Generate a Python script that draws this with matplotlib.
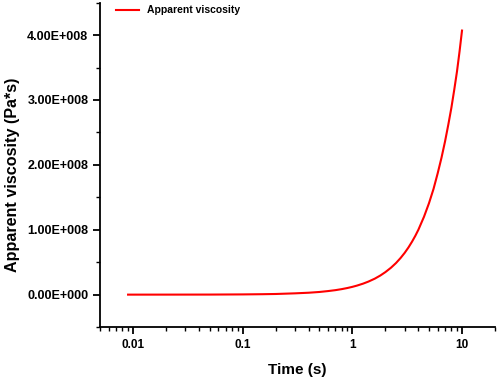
import matplotlib
matplotlib.use("Agg")
import matplotlib.pyplot as plt
from matplotlib.ticker import FuncFormatter, MultipleLocator, LogLocator, NullFormatter

plt.rcParams["font.family"] = ["Liberation Sans", "DejaVu Sans"]
plt.rcParams["font.weight"] = "bold"

# time (s) and apparent viscosity (Pa*s)
time_s = [0.009, 0.02, 0.05, 0.1, 0.15, 0.2, 0.3, 0.4, 0.5, 0.6, 0.7, 0.8, 0.9,
          1.0, 1.1, 1.25, 1.4, 1.6, 1.8, 2.0, 2.25, 2.5, 2.75, 3.0, 3.25, 3.5,
          3.75, 4.0, 4.5, 5.0, 5.5, 6.0, 6.5, 7.0, 7.5, 8.0, 8.5, 9.0, 9.5, 10.0]
viscosity = [0.00001e8, 0.0003e8, 0.001e8, 0.0035e8, 0.0066e8, 0.010e8, 0.020e8,
             0.0295e8, 0.041e8, 0.055e8, 0.069e8, 0.085e8, 0.102e8, 0.12e8,
             0.139e8, 0.169e8, 0.201e8, 0.246e8, 0.295e8, 0.347e8, 0.415e8,
             0.487e8, 0.564e8, 0.644e8, 0.728e8, 0.816e8, 0.906e8, 1.0e8,
             1.2e8, 1.41e8, 1.63e8, 1.87e8, 2.11e8, 2.36e8, 2.62e8, 2.88e8,
             3.16e8, 3.44e8, 3.75e8, 4.07e8]


def sci_fmt(v, pos):
    m, e = f"{v:.2E}".split("E")
    sign = "+" if int(e) >= 0 else "-"
    return f"{m}E{sign}{abs(int(e)):03d}"


fig = plt.figure(figsize=(4.98, 3.79), dpi=100)
ax = fig.add_axes([0.201, 0.137, 0.793, 0.856])
ax.plot(time_s, viscosity, color="#ff0000", lw=1.5, label="Apparent viscosity")

ax.set_xscale("log")
ax.set_xlim(0.005, 20)
ax.set_ylim(-0.5e8, 4.5e8)
ax.xaxis.set_major_locator(LogLocator(base=10, numticks=10))
ax.xaxis.set_minor_locator(LogLocator(base=10, subs=range(2, 10), numticks=20))
ax.xaxis.set_minor_formatter(NullFormatter())
ax.xaxis.set_major_formatter(FuncFormatter(lambda v, p: f"{v:g}"))
ax.yaxis.set_minor_locator(MultipleLocator(0.5e8))
ax.set_yticks([0, 1e8, 2e8, 3e8, 4e8])
ax.yaxis.set_major_formatter(FuncFormatter(sci_fmt))

for s in ["top", "right"]:
    ax.spines[s].set_visible(False)
for s in ["left", "bottom"]:
    ax.spines[s].set_linewidth(1.3)
ax.tick_params(which="major", length=5, width=1.3, direction="out")
ax.tick_params(axis="y", which="major", labelsize=9, pad=3.5)
ax.tick_params(axis="x", which="major", labelsize=8.5)
ax.tick_params(which="minor", length=3, width=1.0, direction="out")

ax.set_xlabel("Time (s)", fontsize=11, fontweight="bold", labelpad=9)
ax.set_ylabel("Apparent viscosity (Pa*s)", fontsize=11.6, fontweight="bold")
ax.yaxis.set_label_coords(-0.203, 0.469)

ax.legend(loc="upper left", frameon=False, fontsize=7.5, handlelength=2.2,
          borderaxespad=0.0, bbox_to_anchor=(0.03, 1.005))

fig.savefig("out.png", dpi=100)
